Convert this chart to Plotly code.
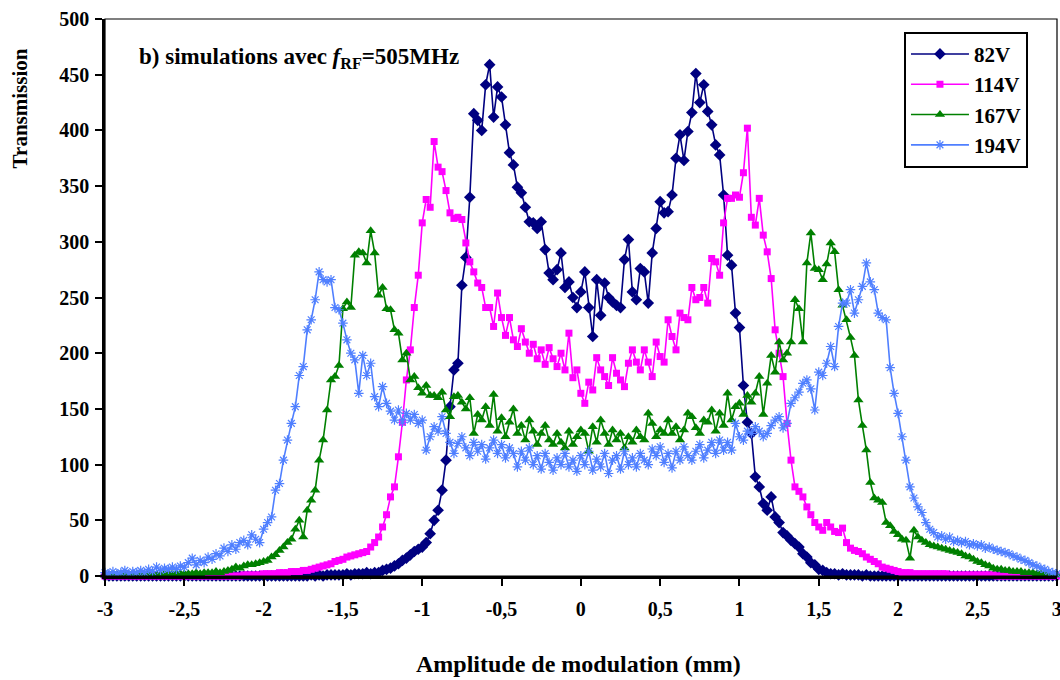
import plotly.graph_objects as go

# x grid: -3 .. 3 step 0.025 (241 points)
x_start = -3.0
x_step = 0.025
n_points = 241
x_values = [round(x_start + i * x_step, 3) for i in range(n_points)]

series_names = ["82V", "114V", "167V", "194V"]

v82 = [
    0, 0, 0, 0, 0, 0, 0, 0, 0, 0,
    0, 0, 0, 0, 0, 0, 0, 0, 0, 0,
    0, 0, 0, 0, 0, 0, 0, 0, 0, 0,
    0, 0, 0, 0, 0, 0, 0, 0, 0, 0,
    0, 0, 0, 0, 0, 0, 0, 0, 0, 0,
    0, 0, 1, 0, 1, 0, 1, 1, 1, 1,
    1, 2, 1, 2, 2, 2, 3, 2, 3, 3,
    5, 6, 7, 9, 11, 14, 16, 19, 22, 24,
    26, 30, 38, 50, 59, 77, 104, 152, 185, 191,
    261, 286, 340, 415, 409, 400, 441, 459, 412, 439,
    430, 405, 380, 369, 349, 344, 331, 318, 317, 312,
    318, 293, 272, 266, 275, 290, 259, 264, 250, 241,
    255, 273, 241, 215, 266, 234, 263, 250, 246, 243,
    241, 284, 302, 255, 248, 276, 273, 245, 290, 312,
    336, 326, 327, 342, 375, 396, 373, 399, 416, 451,
    425, 441, 417, 405, 387, 378, 342, 288, 279, 236,
    223, 171, 138, 128, 89, 80, 65, 59, 71, 53,
    48, 39, 36, 32, 29, 26, 20, 17, 12, 10,
    6, 5, 3, 2, 2, 1, 2, 1, 1, 1,
    1, 0, 1, 0, 0, 0, 0, 0, 0, 0,
    0, 0, 0, 0, 0, 0, 0, 0, 0, 0,
    0, 0, 0, 0, 0, 0, 0, 0, 0, 0,
    0, 0, 0, 0, 0, 0, 0, 0, 0, 0,
    0, 0, 0, 0, 0, 0, 0, 0, 0, 0,
    0,
]

v114 = [
    0, 0, 0, 0, 0, 0, 0, 0, 0, 0,
    0, 0, 0, 0, 0, 0, 0, 0, 0, 0,
    0, 0, 0, 0, 0, 0, 0, 0, 0, 0,
    0, 0, 0, 0, 0, 1, 1, 1, 1, 1,
    2, 2, 2, 2, 3, 3, 3, 4, 4, 4,
    5, 5, 6, 7, 8, 9, 10, 11, 13, 14,
    15, 17, 18, 19, 20, 21, 22, 26, 30, 35,
    44, 55, 71, 80, 107, 138, 176, 203, 241, 270,
    317, 338, 331, 390, 367, 363, 346, 326, 321, 322,
    320, 299, 282, 273, 263, 259, 241, 241, 224, 254,
    232, 216, 232, 212, 206, 222, 210, 200, 208, 195,
    203, 190, 205, 195, 188, 200, 185, 218, 178, 185,
    164, 155, 174, 167, 196, 185, 179, 171, 196, 182,
    176, 170, 191, 203, 192, 185, 203, 192, 179, 210,
    197, 192, 230, 215, 203, 236, 232, 230, 259, 248,
    250, 259, 245, 285, 282, 270, 317, 339, 339, 342,
    340, 362, 402, 322, 315, 339, 306, 291, 267, 221,
    200, 179, 137, 104, 80, 76, 71, 62, 55, 48,
    44, 41, 48, 44, 40, 39, 43, 30, 25, 23,
    22, 20, 17, 15, 13, 11, 8, 7, 6, 5,
    4, 3, 3, 3, 2, 2, 2, 2, 2, 2,
    2, 2, 2, 1, 1, 1, 1, 1, 1, 1,
    1, 1, 1, 1, 1, 0, 0, 0, 0, 0,
    0, 0, 0, 0, 0, 0, 0, 0, 0, 0,
    0,
]

v167 = [
    1, 0, 1, 0, 1, 1, 0, 1, 1, 1,
    1, 1, 1, 1, 1, 2, 1, 2, 2, 2,
    2, 2, 2, 3, 2, 3, 3, 3, 4, 3,
    4, 5, 6, 8, 7, 9, 10, 10, 11, 12,
    13, 14, 17, 19, 23, 26, 30, 33, 42, 50,
    35, 59, 68, 77, 104, 122, 149, 176, 179, 189,
    240, 246, 241, 288, 291, 290, 281, 310, 290, 252,
    259, 240, 239, 221, 218, 194, 200, 176, 179, 169,
    164, 171, 162, 162, 160, 165, 149, 143, 161, 162,
    156, 150, 160, 128, 145, 140, 152, 135, 163, 130,
    142, 125, 138, 150, 128, 135, 122, 140, 130, 118,
    128, 135, 122, 118, 128, 120, 115, 130, 118, 125,
    131, 128, 112, 134, 120, 140, 128, 118, 131, 122,
    128, 115, 125, 120, 131, 125, 122, 146, 137, 125,
    131, 128, 140, 128, 134, 122, 131, 146, 143, 133,
    128, 140, 138, 149, 130, 146, 135, 164, 140, 152,
    155, 145, 162, 156, 164, 179, 145, 173, 198, 183,
    210, 194, 200, 210, 248, 240, 210, 281, 308, 276,
    275, 266, 280, 299, 291, 257, 243, 230, 214, 198,
    158, 135, 113, 84, 70, 68, 66, 48, 45, 40,
    37, 33, 32, 16, 41, 35, 32, 30, 28, 27,
    26, 25, 24, 23, 22, 21, 20, 18, 17, 15,
    13, 12, 10, 9, 7, 6, 6, 5, 5, 4,
    4, 4, 3, 3, 3, 2, 2, 2, 2, 1,
    1,
]

v194 = [
    3, 2, 4, 2, 3, 5, 2, 4, 3, 5,
    3, 6, 4, 8, 5, 7, 6, 8, 6, 9,
    8, 12, 16, 10, 14, 12, 17, 15, 20, 18,
    25, 22, 28, 24, 30, 32, 28, 37, 33, 30,
    42, 48, 53, 77, 83, 104, 122, 137, 152, 180,
    188, 221, 230, 248, 273, 266, 264, 266, 241, 239,
    227, 212, 200, 194, 164, 198, 180, 191, 161, 152,
    170, 155, 148, 140, 149, 138, 146, 140, 145, 137,
    140, 113, 125, 134, 130, 143, 128, 120, 110, 119,
    125, 115, 108, 120, 112, 118, 105, 115, 122, 110,
    118, 106, 115, 110, 98, 112, 104, 115, 100, 108,
    96, 110, 102, 95, 106, 100, 110, 98, 104, 94,
    108, 100, 112, 95, 105, 98, 110, 92, 104, 108,
    96, 112, 100, 106, 98, 110, 104, 100, 114, 108,
    116, 102, 110, 97, 112, 104, 116, 108, 104, 112,
    118, 106, 113, 120, 110, 122, 113, 120, 113, 137,
    125, 122, 130, 128, 134, 130, 125, 128, 135, 140,
    143, 133, 137, 155, 160, 165, 173, 176, 168, 149,
    183, 180, 191, 206, 188, 224, 245, 245, 257, 236,
    248, 260, 281, 264, 257, 236, 232, 230, 187, 164,
    146, 125, 104, 80, 70, 62, 57, 48, 42, 39,
    35, 36, 33, 35, 31, 32, 30, 31, 28, 29,
    27, 28, 25, 26, 24, 23, 22, 21, 20, 18,
    17, 15, 14, 12, 10, 9, 7, 6, 4, 3,
    2,
]

x_tick_values = [-3, -2.5, -2, -1.5, -1, -0.5, 0, 0.5, 1, 1.5, 2, 2.5, 3]
x_tick_labels = ["-3", "-2,5", "-2", "-1,5", "-1", "-0,5", "0", "0,5", "1", "1,5", "2", "2,5", "3"]
y_tick_values = [0, 50, 100, 150, 200, 250, 300, 350, 400, 450, 500]

title_text = "b) simulations avec <i>f</i><sub>RF</sub>=505MHz"
x_title = "Amplitude de modulation (mm)"
y_title = "Transmission"

FONT = "Liberation Serif"

styles = [
    dict(color="#000080", symbol="diamond", size=9, line=dict(width=0)),
    dict(color="#FF00FF", symbol="square", size=7, line=dict(width=0)),
    dict(color="#008000", symbol="triangle-up", size=9, line=dict(width=0)),
    dict(color="#4F7FFF", symbol="asterisk-open", size=8, line=dict(width=1.2, color="#4F7FFF")),
]
line_colors = ["#000080", "#FF00FF", "#008000", "#4F7FFF"]

fig = go.Figure()
for name, vals, mk, lc in zip(series_names, [v82, v114, v167, v194], styles, line_colors):
    fig.add_trace(go.Scatter(
        x=x_values, y=vals, name=name, mode="lines+markers",
        line=dict(color=lc, width=1.6),
        marker=mk, cliponaxis=False,
    ))

fig.update_layout(
    width=1060, height=680,
    margin=dict(l=105, r=3, t=19, b=104, autoexpand=False),
    paper_bgcolor="white", plot_bgcolor="white",
    font=dict(family=FONT, color="black", size=18, weight="bold"),
    showlegend=True,
    legend=dict(
        x=0.9695, y=0.977, xanchor="right", yanchor="top",
        bordercolor="black", borderwidth=2, bgcolor="white",
        font=dict(family=FONT, size=21, color="black", weight="bold"),
        itemwidth=58, tracegroupgap=0,
    ),
    annotations=[
        dict(text=title_text, xref="paper", yref="paper", x=0.0336, y=0.93,
             xanchor="left", yanchor="middle", showarrow=False,
             font=dict(family=FONT, size=23, color="black", weight="bold")),
        dict(text=x_title, xref="paper", yref="paper", x=0.497, y=-0.158,
             xanchor="center", yanchor="middle", showarrow=False,
             font=dict(family=FONT, size=24, color="black", weight="bold")),
        dict(text=y_title, xref="paper", yref="paper", x=-0.089, y=0.84,
             xanchor="center", yanchor="middle", showarrow=False, textangle=-90,
             font=dict(family=FONT, size=21, color="black", weight="bold")),
    ],
    shapes=[dict(type="rect", xref="paper", yref="paper", x0=0, y0=0, x1=1, y1=1,
                 line=dict(color="black", width=1.2), layer="above")],
)

fig.update_xaxes(
    range=[-3, 3.002], tickvals=x_tick_values, ticktext=x_tick_labels,
    ticks="outside", ticklen=7, tickwidth=1.5, tickcolor="black",
    showline=True, linecolor="black", linewidth=2.5, showgrid=False, zeroline=False,
    tickfont=dict(family=FONT, size=20, color="black", weight="bold"),
    automargin=False, ticklabeloverflow="allow", ticklabelstandoff=6,
)
fig.update_yaxes(
    range=[0, 500], tickvals=y_tick_values,
    ticks="outside", ticklen=7, tickwidth=1.5, tickcolor="black",
    showline=True, linecolor="black", linewidth=2.5, showgrid=False, zeroline=False,
    tickfont=dict(family=FONT, size=20, color="black", weight="bold"),
    automargin=False, ticklabelstandoff=2,
)

# remove the default page margin so the 1060x680 figure fills the window exactly
fig.write_html(
    "out.html",
    config={"displayModeBar": False},
    post_script="document.body.style.margin='0';document.body.style.overflow='hidden';",
)
